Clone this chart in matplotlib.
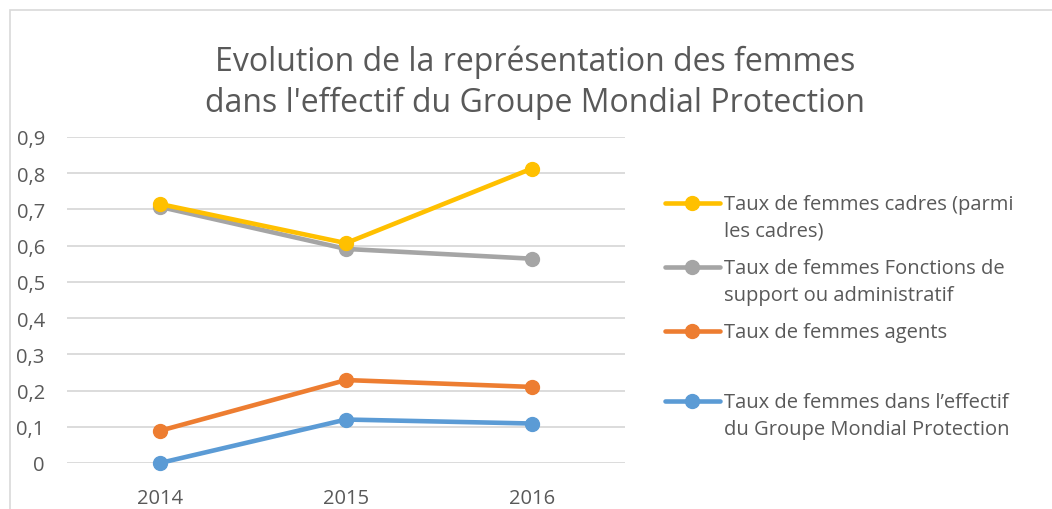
import matplotlib.pyplot as plt
from matplotlib.lines import Line2D
from matplotlib.patches import Rectangle

plt.rcParams['font.family'] = ['Open Sans', 'DejaVu Sans']

years = ['2014', '2015', '2016']
cadres = [0.715, 0.607, 0.813]
support = [0.707, 0.591, 0.564]
agents = [0.089, 0.229, 0.210]
effectif = [0.0, 0.120, 0.109]

labels = ['Taux de femmes cadres (parmi\nles cadres)',
          'Taux de femmes Fonctions de\nsupport ou administratif',
          'Taux de femmes agents',
          'Taux de femmes dans l\u2019effectif\ndu Groupe Mondial Protection']
colors = ['#FFC000', '#A5A5A5', '#ED7D31', '#5B9BD5']
yticks = [0, 0.1, 0.2, 0.3, 0.4, 0.5, 0.6, 0.7, 0.8, 0.9]
ytick_labels = ['0', '0,1', '0,2', '0,3', '0,4', '0,5', '0,6', '0,7', '0,8', '0,9']

W, H = 1052, 510
fig = plt.figure(figsize=(W / 100, H / 100), dpi=100)
ax = fig.add_axes([67 / W, 1 - 464 / H, (625 - 67) / W, (464 - 138) / H])

series = [cadres, support, agents, effectif]
x = range(len(years))
# draw last series first so the yellow one ends on top
for vals, c in reversed(list(zip(series, colors))):
    ax.plot(x, vals, color=c, lw=3.3, marker='o', ms=10, clip_on=False,
            solid_capstyle='round', zorder=3)

ax.set_xlim(-0.5, 2.5)
ax.set_ylim(0, 0.9)
ax.set_xticks(list(x))
ax.set_xticklabels(years)
ax.set_yticks(yticks)
ax.set_yticklabels(ytick_labels)
ax.tick_params(length=0, labelsize=14.5, labelcolor='#595959')
ax.tick_params(axis='x', pad=18)
ax.tick_params(axis='y', pad=16)
ax.grid(axis='y', color='#d9d9d9', lw=1.3)
ax.set_axisbelow(True)
for s in ax.spines.values():
    s.set_visible(False)

# chart border
fig.add_artist(Rectangle((10 / W, -0.1), 1.2, 1 - 11 / H + 0.1,
                         transform=fig.transFigure, fill=False,
                         ec='#d9d9d9', lw=1.2))

fig.text(535 / W, 1 - 83 / H,
         'Evolution de la représentation des femmes\ndans l\'effectif du Groupe Mondial Protection',
         ha='center', va='center', fontsize=23, color='#595959',
         linespacing=1.3, family=['Open Sans', 'DejaVu Sans'])

# legend
leg_y = [204, 268, 332, 402]
for yy, lab, c in zip(leg_y, labels, colors):
    fy = 1 - yy / H
    fig.add_artist(Line2D([665 / W, 720 / W], [fy, fy], transform=fig.transFigure,
                          color=c, lw=3.3, solid_capstyle='round'))
    fig.add_artist(Line2D([692 / W], [fy], transform=fig.transFigure,
                          color=c, marker='o', ms=10))
    fig.text(724 / W, fy + 9 / H, lab, ha='left', va='top', fontsize=14.5,
             color='#595959', linespacing=1.45)

fig.savefig('out.png', dpi=100)
